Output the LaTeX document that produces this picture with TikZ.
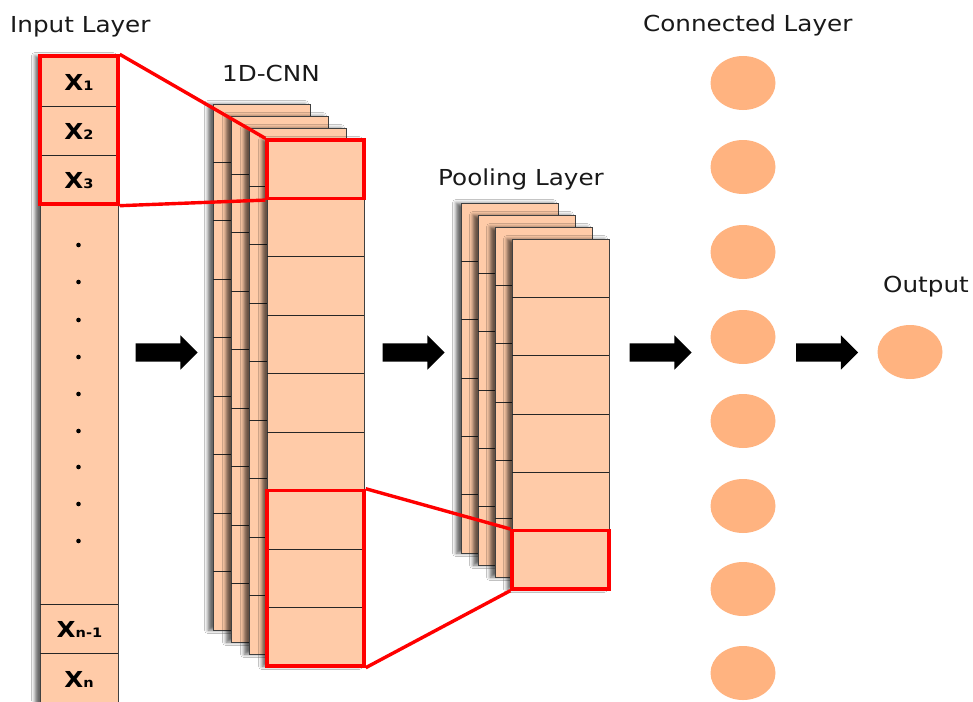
\documentclass[tikz,border=0pt]{standalone}
\usepackage{fontspec}
\setmainfont[FakeStretch=1.12]{DejaVu Sans}
\usetikzlibrary{shapes.geometric,shapes.arrows,shadows.blur,fit}
\definecolor{peach}{HTML}{FFCBA8}
\definecolor{neuron}{HTML}{FFB380}
\definecolor{boxred}{HTML}{FF0000}
\newcommand\xsub[1]{{\fontsize{13}{14}\selectfont #1}}
\begin{document}
\begin{tikzpicture}[x=1pt,y=-1pt,
  sheet/.style={draw=black!75, line width=0.9pt, fill=peach, inner sep=0pt,
    blur shadow={shadow xshift=-5pt, shadow yshift=0pt, shadow blur radius=3.5pt, shadow opacity=60}},
  cellline/.style={black!85, line width=1pt},
  redbox/.style={draw=boxred, line width=3.4pt, inner sep=0pt},
  redline/.style={boxred, line width=3.4pt},
  layertitle/.style={font=\fontsize{22}{26}\selectfont, anchor=base west, inner sep=0pt, text=black!90},
  xcell/.style={font=\fontsize{22}{24}\selectfont\bfseries, anchor=base, inner sep=0pt},
  blockarrow/.style={single arrow, fill=black, inner xsep=0pt, inner ysep=9pt, minimum height=62pt,
    single arrow head extend=8pt},
  neuronnode/.style={ellipse, fill=neuron, minimum width=65pt, minimum height=54pt, inner sep=0pt},
]
\useasboundingbox (0,0) rectangle (973,701);
\clip (0,0) rectangle (973,701);
\fill[white] (0,0) rectangle (973,701);

% input column
\node[sheet, fit={(40,56)(118,712)}] (inp) {};
\foreach \yy in {106,155,204,604,653} \draw[cellline] (40,\yy) -- (118,\yy);
\node[xcell] (x1) at (79,90) {X\xsub{1}};
\node[xcell] (x2) at (79,139) {X\xsub{2}};
\node[xcell] (x3) at (79,188) {X\xsub{3}};
\node[xcell] (xm) at (79.5,637) {X\xsub{n-1}};
\node[xcell] (xn) at (79,687) {X\xsub{n}};
\foreach \yy in {245,282,320,357,394,431,467,504,541} \fill (78.5,\yy) circle (2.3pt);

% convolution feature maps
\foreach \i/\l/\t in {0/213/104, 1/231/116, 2/249/128, 3/267/140} {
  \node[sheet, fit={(\l,\t)(\l+97,\t+526)}] (cnn\i) {};
  \foreach \k in {1,...,8} \draw[cellline] (\l,\t+\k*58.444) -- (\l+97,\t+\k*58.444);
}

% pooled feature maps
\foreach \i/\l/\t in {0/461/203, 1/478/215, 2/495/227, 3/512/239} {
  \node[sheet, fit={(\l,\t)(\l+97,\t+350)}] (pool\i) {};
  \foreach \k in {1,...,5} \draw[cellline] (\l,\t+\k*58.333) -- (\l+97,\t+\k*58.333);
}

% receptive fields
\node[redbox, fit={(40,56)(118,204)}] (inX) {};
\node[redbox, fit={(267,140)(364,198.4)}] (cnnA) {};
\node[redbox, fit={(267,490.4)(364,666)}] (cnnB) {};
\node[redbox, fit={(512,530.7)(609,589)}] (poolA) {};
\draw[redline] (inX.north east) -- (cnnA.north west);
\draw[redline] (inX.south east) -- (cnnA.south west);
\draw[redline] (cnnB.north east) -- (poolA.north west);
\draw[redline] (cnnB.south east) -- (poolA.south west);

% flow arrows
\node[blockarrow] (a1) at (162,352.5) {};
\node[blockarrow] (a2) at (409,352.5) {};
\node[blockarrow] (a3) at (656,352.5) {};
\node[blockarrow] (a4) at (822.5,352.5) {};

% fully connected layer and output
\foreach \j/\yy in {1/83,2/167,3/252,4/337,5/421,6/506,7/589,8/673}
  \node[neuronnode] (n\j) at (743,\yy) {};
\node[neuronnode] (outn) at (910,352) {};

% titles
\node[layertitle] (tIn) at (10,33) {Input Layer};
\node[layertitle] (tCnn) at (222,81) {1D-CNN};
\node[layertitle] (tPool) at (438,185) {Pooling Layer};
\node[layertitle] (tFc) at (643,32) {Connected Layer};
\node[layertitle] (tOut) at (883,292) {Output};
\end{tikzpicture}
\end{document}
